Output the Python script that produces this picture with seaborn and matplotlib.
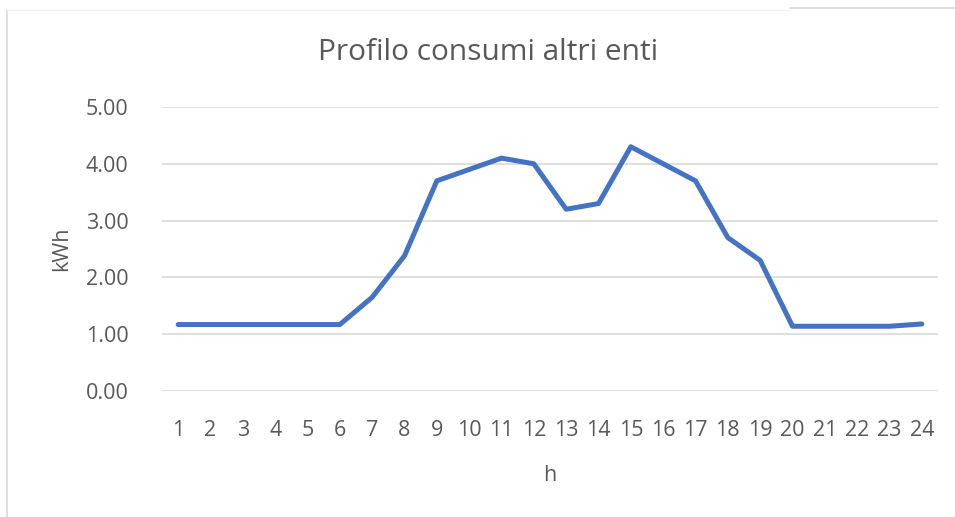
import matplotlib
matplotlib.use("Agg")
import matplotlib.pyplot as plt
from matplotlib.lines import Line2D
import seaborn as sns
import pandas as pd

hours = list(range(1, 25))
kwh = [1.17, 1.17, 1.17, 1.17, 1.17, 1.17, 1.65, 2.38, 3.70, 3.90, 4.10, 4.00,
       3.20, 3.30, 4.30, 4.00, 3.70, 2.70, 2.30, 1.14, 1.14, 1.14, 1.14, 1.18]
y_ticks = [0, 1, 2, 3, 4, 5]

sns.set_theme(style="white")
plt.rcParams["font.family"] = ["Open Sans", "DejaVu Sans"]

TEXT = "#595959"
GRID = "#D9D9D9"
LINE = "#4472C4"

W, H = 955, 517
fig = plt.figure(figsize=(W / 100, H / 100), dpi=100)
ax = fig.add_axes([162 / W, (H - 391) / H, (938 - 162) / W, (391 - 107) / H])

df = pd.DataFrame({"h": hours, "kWh": kwh})
sns.lineplot(data=df, x="h", y="kWh", ax=ax, color=LINE, linewidth=3.6,
             solid_capstyle="round", solid_joinstyle="round", zorder=3)

ax.set_xlim(0.5, 24.5)
ax.set_ylim(0, 5)
ax.set_yticks(y_ticks)
ax.set_yticklabels([f"{v:.2f}" for v in y_ticks])
ax.set_xticks(hours)
ax.set_xticklabels([str(h) for h in hours])
ax.yaxis.grid(True, color=GRID, linewidth=1.2)
ax.xaxis.grid(False)
for s in ax.spines.values():
    s.set_visible(False)
ax.tick_params(axis="both", length=0, labelsize=15.5, labelcolor=TEXT)
ax.tick_params(axis="y", pad=24)
ax.tick_params(axis="x", pad=21)

ax.set_xlabel("h", fontsize=15.5, color=TEXT, labelpad=17)
ax.set_ylabel("kWh", fontsize=15.5, color=TEXT, labelpad=10)
fig.text(488 / W, 1 - 53 / H, "Profilo consumi altri enti", fontsize=21.5,
         color=TEXT, ha="center", va="center")

# chart frame
fig.add_artist(Line2D([7 / W, 7 / W], [0, 1 - 10 / H], transform=fig.transFigure,
                      color="#D9D9D9", linewidth=1.2))
fig.add_artist(Line2D([7 / W, 790 / W], [1 - 10 / H, 1 - 10 / H], transform=fig.transFigure,
                      color="#F2F2F2", linewidth=1.0))
fig.add_artist(Line2D([790 / W, 1], [1 - 8 / H, 1 - 8 / H], transform=fig.transFigure,
                      color="#D9D9D9", linewidth=1.2))

fig.savefig("out.png", dpi=100)
